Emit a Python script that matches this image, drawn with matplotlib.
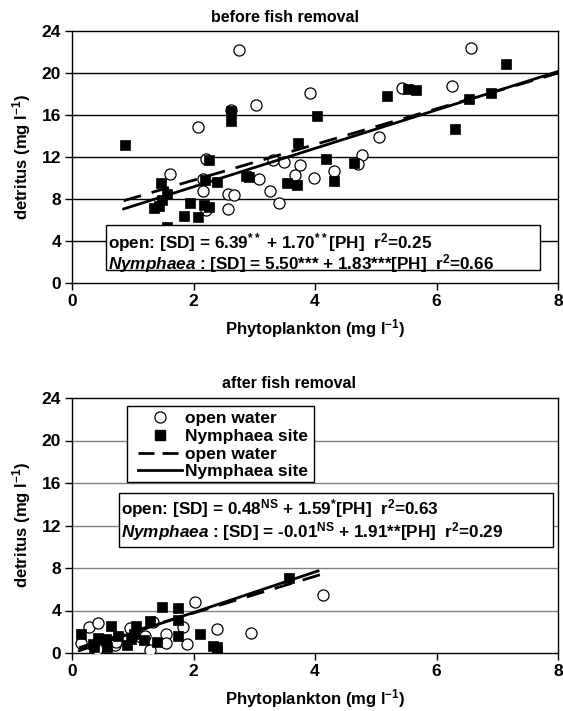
import matplotlib
matplotlib.use("Agg")
import matplotlib.pyplot as plt
from matplotlib.lines import Line2D

plt.rcParams['font.family'] = ['Liberation Sans', 'DejaVu Sans']
plt.rcParams['font.weight'] = 'bold'
plt.rcParams['mathtext.fontset'] = 'custom'
plt.rcParams['mathtext.rm'] = 'Liberation Sans:bold'
plt.rcParams['mathtext.bf'] = 'Liberation Sans:bold'
plt.rcParams['mathtext.it'] = 'Liberation Sans:italic:bold'
plt.rcParams['mathtext.default'] = 'bf'
plt.rcParams['lines.scale_dashes'] = False

# ---------------- data: before fish removal ----------------
before_open_x = [2.75, 2.07, 3.03, 3.91, 5.43, 6.25, 6.57, 5.05, 4.78, 4.70, 4.31, 3.31, 3.49, 3.76,
                 3.67, 3.98, 3.07, 3.26, 3.40, 2.57, 2.66, 2.57, 2.20, 2.16, 2.16, 2.20, 1.61, 2.62]
before_open_y = [22.2, 14.9, 17.0, 18.1, 18.6, 18.8, 22.4, 13.9, 12.2, 11.3, 10.7, 11.7, 11.5, 11.2,
                 10.3, 10.0, 9.9, 8.8, 7.6, 8.45, 8.35, 7.05, 6.95, 8.8, 9.9, 11.8, 10.4, 16.5]
before_nym_x = [0.87, 2.62, 2.62, 4.04, 5.19, 5.53, 5.66, 7.14, 6.53, 6.89, 6.30, 3.72, 4.18, 4.64,
                2.26, 2.87, 2.91, 2.19, 2.38, 1.47, 1.57, 1.48, 1.35, 1.43, 1.94, 1.84, 2.07, 2.17,
                2.26, 3.54, 3.71, 4.32, 1.57]
before_nym_y = [13.1, 16.4, 15.4, 15.95, 17.8, 18.5, 18.35, 20.9, 17.5, 18.1, 14.7, 13.3, 11.8, 11.4,
                11.7, 10.2, 10.1, 9.8, 9.6, 9.5, 8.5, 7.9, 7.1, 7.3, 7.6, 6.4, 6.25, 7.4,
                7.2, 9.5, 9.3, 9.7, 5.3]
# fitted lines (intercept, slope, x start, x end)
before_open_fit = (6.39, 1.70, 0.85, 8.0)
before_nym_fit = (5.50, 1.83, 0.85, 8.0)
before_eq_open = r"open: [SD] = 6.39$^{**}$ + 1.70$^{**}$[PH]  r$^{2}$=0.25"
before_eq_nym = r"$\mathit{Nymphaea}$ : [SD] = 5.50*** + 1.83***[PH]  r$^{2}$=0.66"

# ---------------- data: after fish removal ----------------
after_open_x = [0.15, 0.28, 0.42, 0.41, 0.71, 0.72, 0.96, 1.14, 1.20, 1.34, 1.28, 1.54, 1.54, 1.82,
                1.89, 2.03, 2.38, 2.94, 4.13]
after_open_y = [0.97, 2.45, 2.83, 0.40, 0.72, 1.04, 2.40, 1.50, 1.57, 2.92, 0.31, 1.82, 0.97, 2.45,
                0.82, 4.81, 2.26, 1.92, 5.50]
after_nym_x = [0.15, 0.34, 0.42, 0.36, 0.56, 0.58, 0.64, 0.76, 0.91, 1.05, 1.02, 0.97, 1.18, 1.28,
               1.40, 1.48, 1.75, 1.74, 1.75, 2.11, 2.32, 2.38, 2.38, 3.58]
after_nym_y = [1.76, 0.88, 1.45, 0.57, 1.35, 0.57, 2.55, 1.57, 0.72, 2.55, 1.82, 1.35, 1.20, 3.00,
               1.04, 4.37, 4.28, 3.08, 1.57, 1.82, 0.63, 0.57, 0.10, 7.10]
after_open_fit = (0.30, 1.73, 0.12, 4.15)
after_nym_fit = (-0.01, 1.91, 0.12, 4.05)
after_eq_open = r"open: [SD] = 0.48$^{NS}$ + 1.59$^{*}$[PH]  r$^{2}$=0.63"
after_eq_nym = r"$\mathit{Nymphaea}$ : [SD] = -0.01$^{NS}$ + 1.91**[PH]  r$^{2}$=0.29"

x_ticks = [0, 2, 4, 6, 8]
y_ticks = [0, 4, 8, 12, 16, 20, 24]
legend_labels = ["open water", "Nymphaea site", "open water", "Nymphaea site"]

W, H = 563, 711
fig = plt.figure(figsize=(W / 100, H / 100), dpi=100)

def px_axes(l, t, r, b):
    return fig.add_axes([l / W, 1 - b / H, (r - l) / W, (b - t) / H])

DASH = (13, 8)
FS_TICK = 12.5
FS_LAB = 12
FS_EQ = 12.3

def draw_panel(ax, ox, oy, nx, ny, fo, fn, grid_color):
    for yv in y_ticks[1:-1]:
        ax.axhline(yv, color=grid_color, lw=1.0, zorder=1)
    ax.plot(ox, oy, 'o', ms=8, mfc='white', mec='black', mew=0.9, ls='none', zorder=3)
    ax.plot(nx, ny, 's', ms=7.3, mfc='black', mec='black', mew=0.5, ls='none', zorder=4)
    a, b, x0, x1 = fo
    ax.plot([x0, x1], [a + b * x0, a + b * x1], color='black', lw=2.0, dashes=DASH, zorder=5)
    a, b, x0, x1 = fn
    ax.plot([x0, x1], [a + b * x0, a + b * x1], color='black', lw=2.0, zorder=5)
    ax.set_xlim(0, 8)
    ax.set_ylim(0, 24)
    ax.set_xticks(x_ticks)
    ax.set_yticks(y_ticks)
    ax.tick_params(direction='out', length=5, width=1, labelsize=FS_TICK, pad=3)
    for lab in ax.get_xticklabels() + ax.get_yticklabels():
        lab.set_fontweight('bold')
    for s in ax.spines.values():
        s.set_linewidth(1.0)
        s.set_color('black')
    ax.set_xlabel(r"Phytoplankton (mg l$^{-1}$)", fontsize=FS_LAB, fontweight='bold', labelpad=6)
    ax.set_ylabel(r"detritus (mg l$^{-1}$)", fontsize=FS_LAB, fontweight='bold', labelpad=6)

def eq_box(ax, x0, y0, x1, y1, l1, l2, ty1, ty2, tx):
    ax.add_patch(plt.Rectangle((x0, y0), x1 - x0, y1 - y0, facecolor='white',
                               edgecolor='black', lw=1.0, zorder=6))
    ax.text(tx, ty1, l1, fontsize=FS_EQ, fontweight='bold', va='center', ha='left', zorder=7)
    ax.text(tx, ty2, l2, fontsize=FS_EQ, fontweight='bold', va='center', ha='left', zorder=7)

# top panel
ax1 = px_axes(72, 31, 558, 283)
draw_panel(ax1, before_open_x, before_open_y, before_nym_x, before_nym_y,
           before_open_fit, before_nym_fit, 'black')
eq_box(ax1, 0.56, 1.2, 7.70, 5.55, before_eq_open, before_eq_nym, 3.9, 1.85, 0.59)
fig.text(285 / W, 1 - 18 / H, "before fish removal", ha='center', va='center',
         fontsize=11.5, fontweight='bold')

# bottom panel
ax2 = px_axes(72, 398, 558, 653)
draw_panel(ax2, after_open_x, after_open_y, after_nym_x, after_nym_y,
           after_open_fit, after_nym_fit, '#808080')
eq_box(ax2, 0.78, 10.0, 7.92, 15.05, after_eq_open, after_eq_nym, 13.55, 11.45, 0.81)
fig.text(289 / W, 1 - 384 / H, "after fish removal", ha='center', va='center',
         fontsize=11.5, fontweight='bold')

# legend with a manually drawn frame
ax2.add_patch(plt.Rectangle(((127 - 72) / 486, (653 - 482) / 255), 187 / 486, 76 / 255,
                            transform=ax2.transAxes, facecolor='white', edgecolor='black',
                            lw=1.0, zorder=8))
handles = [
    Line2D([], [], marker='o', ls='none', ms=8, mfc='white', mec='black', mew=0.9),
    Line2D([], [], marker='s', ls='none', ms=7, mfc='black', mec='black'),
    Line2D([], [], color='black', lw=2.0, dashes=(11.5, 5.8)),
    Line2D([], [], color='black', lw=2.0),
]
leg = ax2.legend(handles, legend_labels, loc='upper left',
                 bbox_to_anchor=((138 - 72) / 486, (653 - 411) / 255),
                 frameon=False, prop={'weight': 'bold', 'size': 12.5},
                 handlelength=2.54, handletextpad=0.15, labelspacing=0.15,
                 borderpad=0, borderaxespad=0)
leg.set_zorder(9)

fig.savefig("out.png", dpi=100)
